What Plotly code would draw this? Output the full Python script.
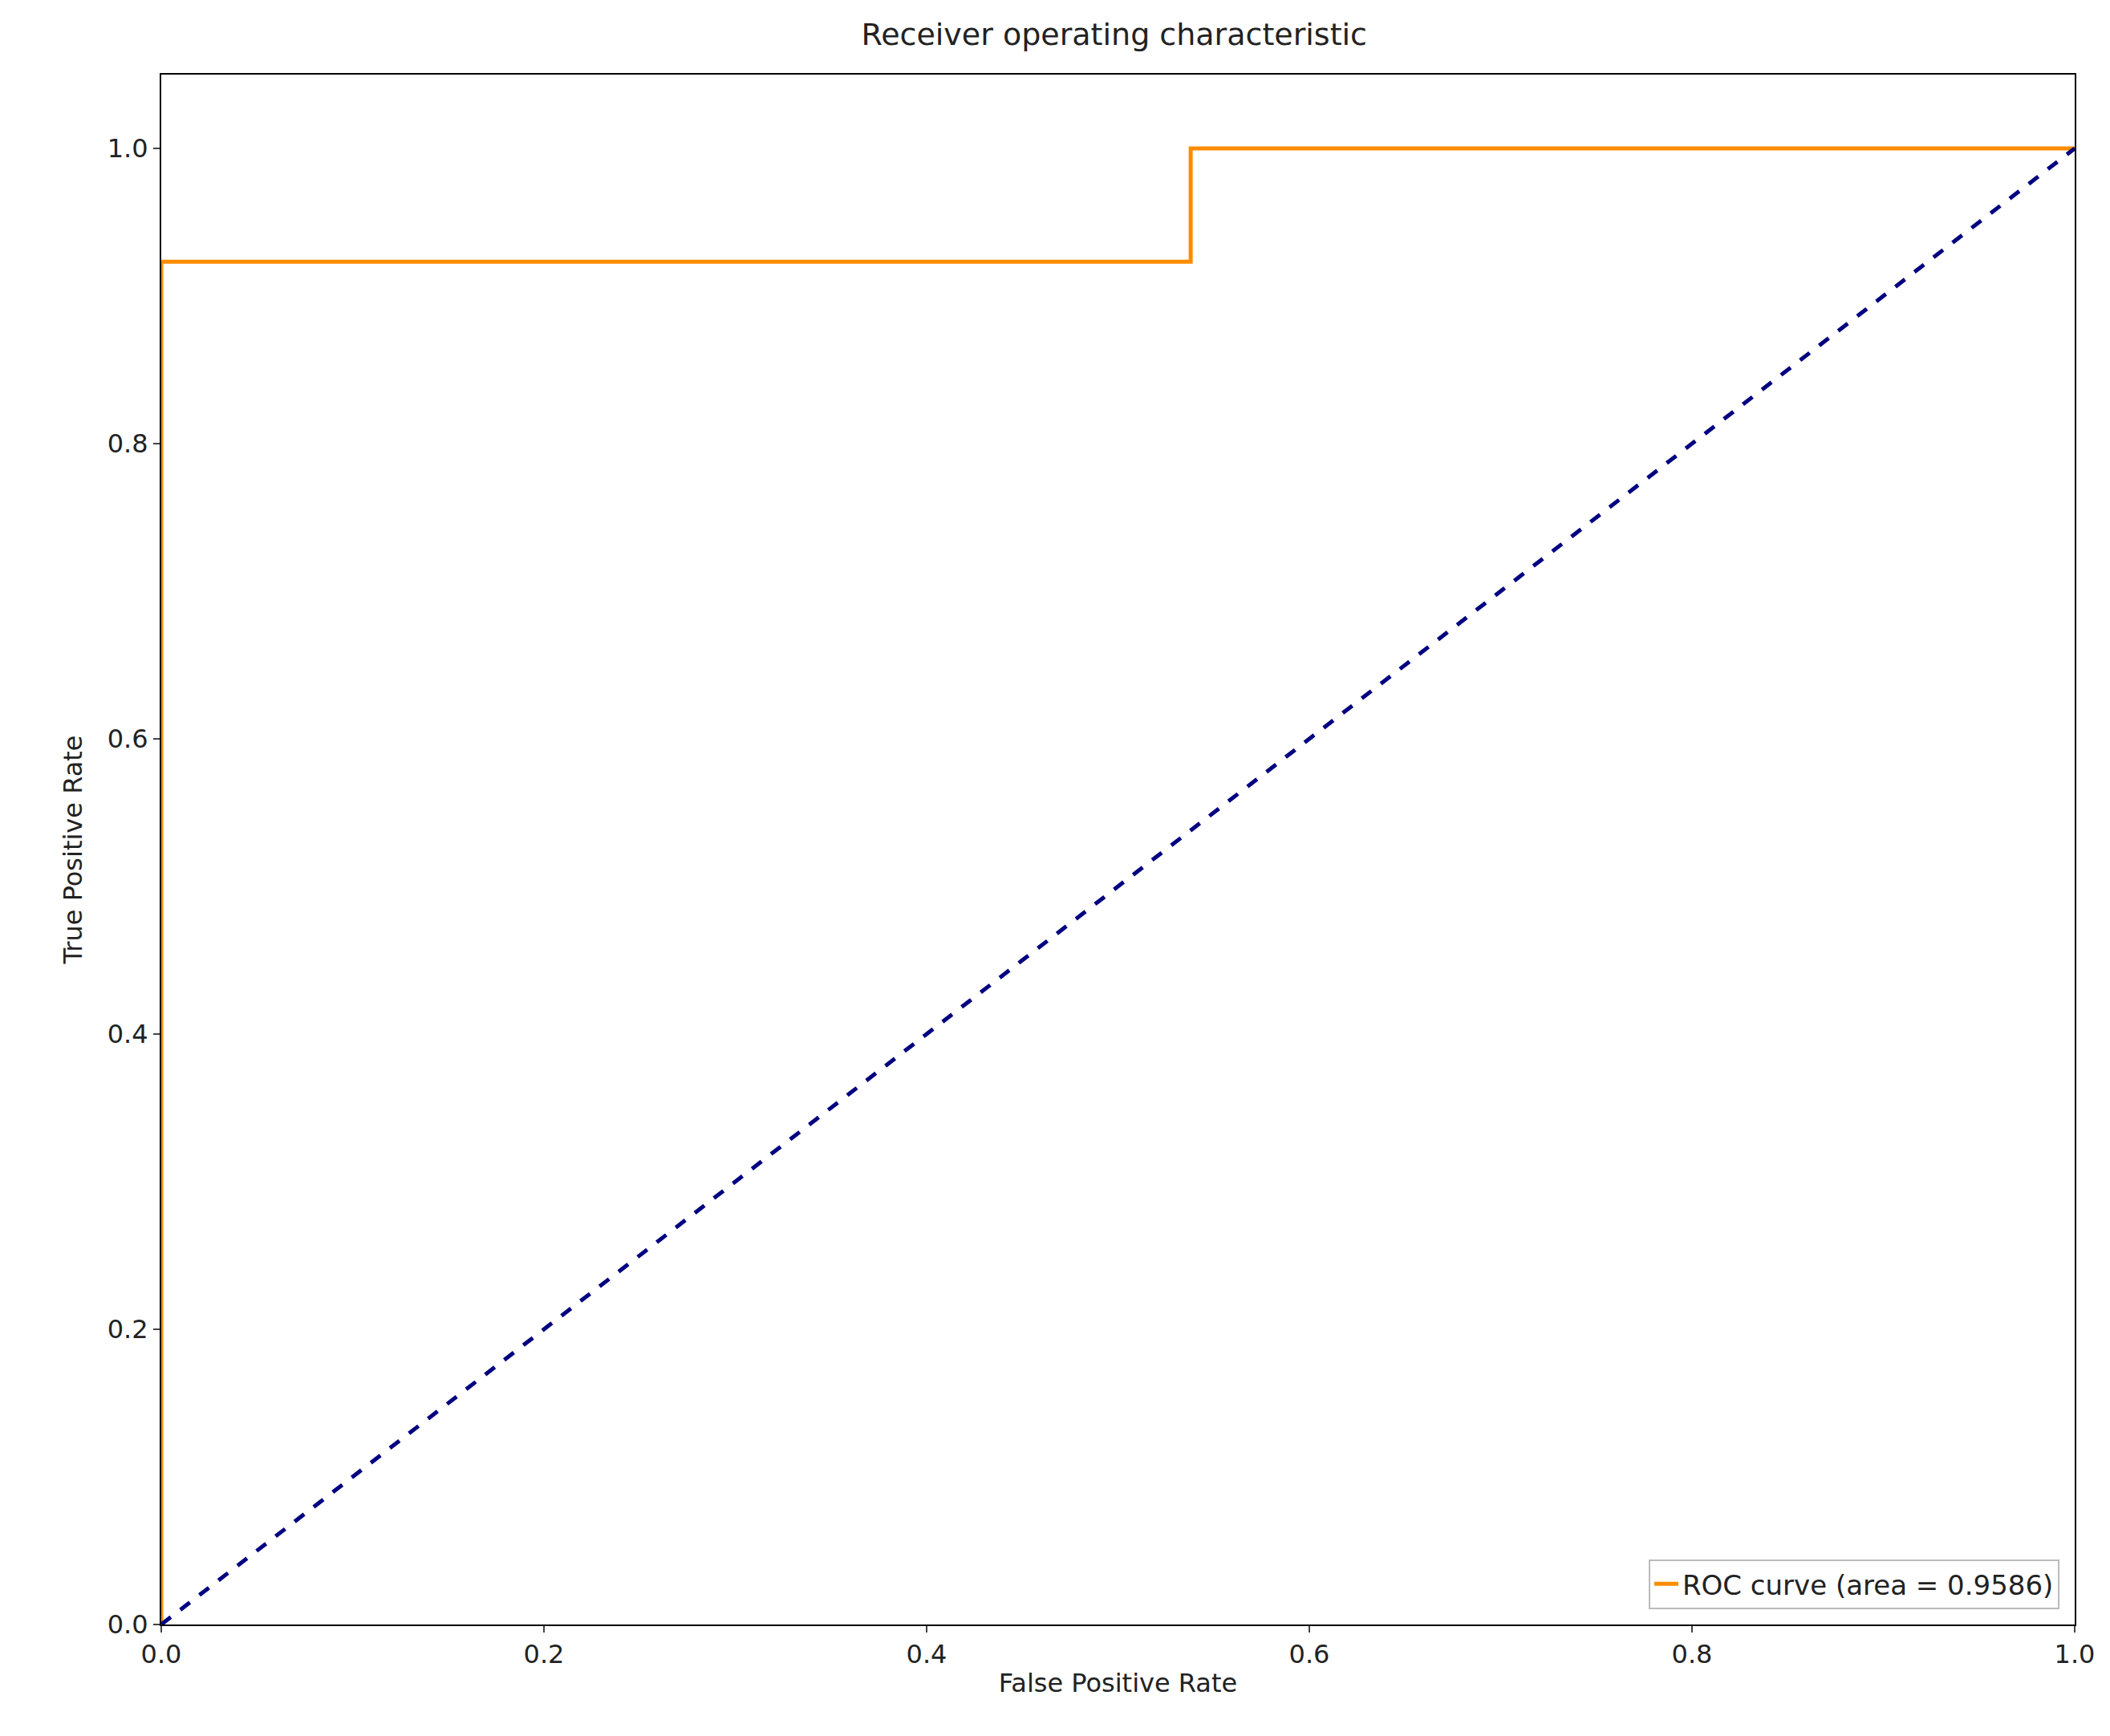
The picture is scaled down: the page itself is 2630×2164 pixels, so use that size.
import plotly.graph_objects as go

fpr = [0.0, 0.0, 0.538, 0.538, 1.0]
tpr = [0.0, 0.9233, 0.9233, 1.0, 1.0]
diag_x = [0, 1]
diag_y = [0, 1]
roc_label = "ROC curve (area = 0.9586)"

fig = go.Figure()
fig.add_trace(go.Scatter(x=fpr, y=tpr, mode="lines", name=roc_label,
                         line=dict(color="darkorange", width=5)))
fig.add_trace(go.Scatter(x=diag_x, y=diag_y, mode="lines", showlegend=False,
                         line=dict(color="navy", width=5, dash="dash")))
ax = dict(showline=True, linecolor="black", linewidth=2, mirror=True, ticks="outside",
          ticklen=8, tickwidth=2, showgrid=False, zeroline=False,
          tickfont=dict(size=32, color="#222"), tickformat=".1f", dtick=0.2)
fig.update_layout(
    width=2630, height=2164, plot_bgcolor="white", paper_bgcolor="white",
    font=dict(family="DejaVu Sans", color="#222"),
    margin=dict(l=193, r=52, t=85, b=147),
    title=dict(text="Receiver operating characteristic", x=0.525, xanchor="center",
               y=0.99, yanchor="top", font=dict(size=38)),
    xaxis=dict(ax, range=[0, 1], title=dict(text="False Positive Rate", font=dict(size=32), standoff=6)),
    yaxis=dict(ax, range=[0, 1.05], title=dict(text="True Positive Rate", font=dict(size=32), standoff=22)),
    legend=dict(x=0.992, y=0.01, xanchor="right", yanchor="bottom", bordercolor="#bbbbbb",
                borderwidth=2, bgcolor="white", font=dict(size=34)),
)
fig.write_html("out.html")
